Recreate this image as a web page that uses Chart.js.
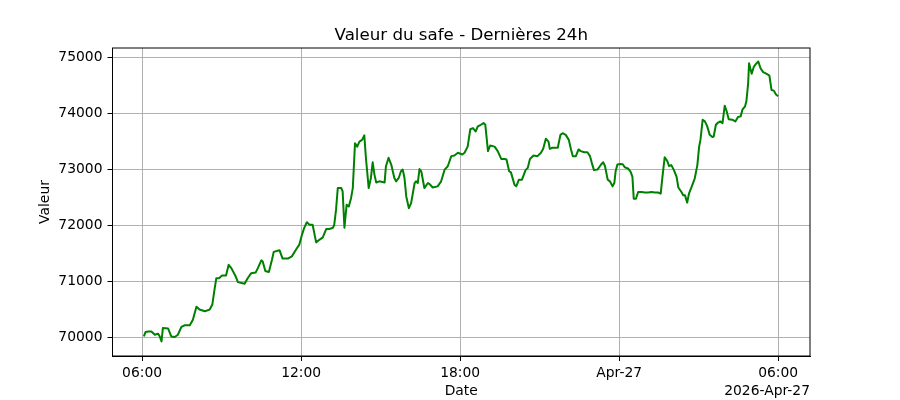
<!DOCTYPE html>
<html>
<head>
<meta charset="utf-8">
<script src="https://cdn.jsdelivr.net/npm/chart.js@4"></script>
<style>
  html, body { margin: 0; padding: 0; background: #fff; }
  canvas { display: block; }
</style>
</head>
<body>
<canvas id="safeChart" width="900" height="400"></canvas>
<script>
// ===== Data =====
const times = [
  '06:04','06:08','06:14','06:21','06:29','06:36','06:40','06:44','06:47','06:59',
  '07:06','07:14','07:21','07:29','07:36','07:48','07:55','08:03','08:10','08:22',
  '08:33','08:39','08:44','08:48','08:54','09:01','09:10','09:16','09:22','09:32',
  '09:37','09:52','09:59','10:07','10:17','10:22','10:30','10:33','10:39','10:47',
  '10:54','10:58','11:11','11:18','11:30','11:39','11:50','11:56','12:01','12:07',
  '12:13','12:19','12:26','12:34','12:42','12:49','12:57','13:04','13:12','13:15',
  '13:19','13:23','13:31','13:34','13:38','13:43','13:48','13:53','13:57','14:02',
  '14:07','14:12','14:18','14:23','14:27','14:33','14:38','14:42','14:46','14:50',
  '14:57','15:09','15:12','15:18','15:24','15:31','15:35','15:41','15:46','15:50',
  '15:54','15:58','16:04','16:09','16:17','16:20','16:24','16:28','16:32','16:39',
  '16:47','16:51','16:58','17:09','17:17','17:25','17:32','17:40','17:47','17:55',
  '18:05','18:10','18:17','18:23','18:29','18:35','18:40','18:47','18:53','18:57',
  '19:03','19:08','19:18','19:25','19:33','19:40','19:45','19:51','19:55','20:03',
  '20:07','20:13','20:20','20:28','20:33','20:38','20:46','20:55','21:03','21:08',
  '21:14','21:20','21:23','21:29','21:41','21:47','21:52','21:59','22:06','22:11',
  '22:15','22:22','22:28','22:33','22:41','22:48','22:54','22:58','23:03','23:11',
  '23:19','23:24','23:28','23:34','23:39','23:45','23:49','23:52','23:56','00:02',
  '00:08','00:13','00:20','00:26','00:30','00:33','00:38','00:43','00:51','00:58',
  '01:06','01:13','01:21','01:28','01:34','01:38','01:43','01:49','01:53','01:58',
  '02:04','02:10','02:14','02:21','02:25','02:29','02:34','02:38','02:44','02:51',
  '02:57','03:01','03:04','03:09','03:14','03:19','03:25','03:31','03:34','03:39',
  '03:44','03:49','03:54','03:59','04:03','04:08','04:16','04:23','04:29','04:35',
  '04:39','04:45','04:48','04:52','04:54','05:00','05:05','05:11','05:15','05:20',
  '05:26','05:34','05:40','05:45','05:50','05:55','06:00'
];

const values = [
  70010,70090,70100,70100,70040,70060,70010,69920,70160,70150,
  70010,70000,70040,70180,70210,70210,70310,70540,70490,70460,
  70490,70580,70850,71050,71050,71100,71100,71290,71230,71080,
  70980,70950,71050,71140,71150,71230,71370,71350,71180,71160,
  71380,71520,71550,71400,71400,71440,71580,71650,71800,71950,
  72050,72005,72005,71690,71740,71780,71930,71930,71950,72005,
  72270,72660,72660,72600,71950,72360,72330,72480,72660,73460,
  73400,73490,73520,73600,73170,72660,72840,73120,72900,72760,
  72780,72760,73050,73200,73080,72840,72780,72840,72960,72990,
  72840,72510,72300,72390,72750,72780,72750,73000,72960,72660,
  72750,72730,72670,72690,72780,72990,73050,73230,73240,73290,
  73260,73290,73400,73710,73730,73670,73760,73790,73820,73790,
  73320,73420,73400,73320,73180,73180,73170,72960,72940,72720,
  72690,72810,72810,72980,73020,73180,73240,73230,73290,73360,
  73540,73490,73360,73380,73380,73610,73640,73610,73520,73350,
  73230,73230,73350,73320,73300,73300,73230,73110,72980,72990,
  73080,73120,73050,72810,72780,72690,72750,72960,73080,73090,
  73085,73030,73010,72950,72860,72470,72470,72590,72590,72580,
  72580,72590,72580,72580,72560,72860,73210,73140,73050,73070,
  72980,72860,72670,72590,72530,72530,72400,72560,72680,72830,
  73070,73400,73520,73880,73850,73770,73610,73570,73580,73790,
  73830,73850,73820,74130,74040,73890,73880,73850,73930,73940,
  74060,74120,74210,74530,74890,74700,74830,74890,74920,74800,
  74730,74700,74670,74410,74400,74330,74300
];

// tick positions in minutes after 06:00 (Apr 26) and their labels
const xTickMinutes = [0, 360, 720, 1080, 1440];
const xTickLabels = ['06:00', '12:00', '18:00', 'Apr-27', '06:00'];
const yTicks = [70000, 71000, 72000, 73000, 74000, 75000];

const chartTitle = 'Valeur du safe - Dernières 24h';
const xTitle = 'Date';
const yTitle = 'Valeur';
const dateOffset = '2026-Apr-27';

// ===== Build points (minutes since 06:00, rolling over midnight) =====
let prev = -Infinity;
let dayShift = 0;
const points = times.map((t, i) => {
  const [h, m] = t.split(':').map(Number);
  let mins = h * 60 + m - 360 + dayShift;
  if (mins < prev) {
    dayShift += 1440;
    mins += 1440;
  }
  prev = mins;
  return { x: mins, y: values[i] };
});

const FONT = "'DejaVu Sans', sans-serif";
const LABEL_SIZE = 13.89; // 10pt at 100 dpi
const TITLE_SIZE = 16.67; // 12pt

// text + frame drawn like matplotlib
const decorPlugin = {
  id: 'decor',
  afterDraw(chart) {
    const { ctx, chartArea: a } = chart;
    ctx.save();
    ctx.strokeStyle = '#000';
    ctx.lineWidth = 1;
    ctx.strokeRect(a.left, a.top, a.right - a.left, a.bottom - a.top);

    const cx = (a.left + a.right) / 2;
    ctx.fillStyle = '#000';
    ctx.textAlign = 'center';
    ctx.textBaseline = 'alphabetic';
    ctx.font = TITLE_SIZE + 'px ' + FONT;
    ctx.fillText(chartTitle, cx, 40);

    ctx.textBaseline = 'middle';
    ctx.font = LABEL_SIZE + 'px ' + FONT;
    ctx.fillText(xTitle, cx, 391);
    ctx.textAlign = 'right';
    ctx.fillText(dateOffset, a.right, 391);

    ctx.translate(45, (a.top + a.bottom) / 2);
    ctx.rotate(-Math.PI / 2);
    ctx.textAlign = 'center';
    ctx.fillText(yTitle, 0, 0);
    ctx.restore();
  }
};

new Chart(document.getElementById('safeChart'), {
  type: 'line',
  data: {
    datasets: [{
      data: points,
      borderColor: '#008000',
      borderWidth: 2,
      borderJoinStyle: 'round',
      pointRadius: 0,
      tension: 0,
      fill: false
    }]
  },
  options: {
    responsive: false,
    animation: false,
    devicePixelRatio: 1,
    layout: { padding: { top: 48, right: 90, bottom: 0, left: 0 } },
    plugins: {
      legend: { display: false },
      tooltip: { enabled: false },
      title: { display: false }
    },
    scales: {
      x: {
        type: 'linear',
        min: -67,
        max: 1512,
        afterBuildTicks: scale => {
          scale.ticks = xTickMinutes.map(v => ({ value: v }));
        },
        afterFit: scale => { scale.height = 44; },
        ticks: {
          autoSkip: false,
          maxRotation: 0,
          padding: 4,
          color: '#000',
          font: { family: FONT, size: LABEL_SIZE },
          callback: (v) => xTickLabels[xTickMinutes.indexOf(v)]
        },
        grid: { color: '#b0b0b0', lineWidth: 1, tickColor: '#000', tickLength: 5 },
        border: { display: true, color: '#000', width: 1 }
      },
      y: {
        min: 69661,
        max: 75161,
        afterBuildTicks: scale => {
          scale.ticks = yTicks.map(v => ({ value: v }));
        },
        afterFit: scale => { scale.width = 112.5; },
        ticks: {
          padding: 5,
          color: '#000',
          font: { family: FONT, size: LABEL_SIZE },
          callback: v => String(v)
        },
        grid: { color: '#b0b0b0', lineWidth: 1, tickColor: '#000', tickLength: 5 },
        border: { display: true, color: '#000', width: 1 }
      }
    }
  },
  plugins: [decorPlugin]
});
</script>
</body>
</html>
